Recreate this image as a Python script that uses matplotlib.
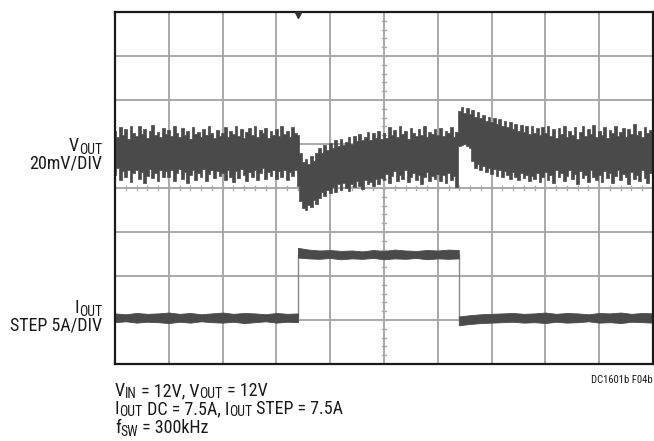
import numpy as np
import matplotlib
matplotlib.use("Agg")
import matplotlib.pyplot as plt
import matplotlib.font_manager as fm
from matplotlib.font_manager import FontProperties

# ---------------- data (in scope divisions) ----------------
n_xdiv = 10
n_ydiv = 8

# VOUT trace envelope, sampled every 0.05 div from 0 to 10
vout_x = np.round(np.arange(0, 201) * 0.05, 2)
vout_upper = [
    5.30, 5.15, 5.38, 5.20, 5.33, 5.12, 5.40, 5.25, 5.18, 5.42, 5.22, 5.35, 5.14, 5.30, 5.44, 5.20, 5.28, 5.16, 5.36, 5.22,
    5.32, 5.18, 5.40, 5.24, 5.15, 5.36, 5.20, 5.30, 5.12, 5.38, 5.22, 5.28, 5.16, 5.34, 5.20, 5.41, 5.25, 5.14, 5.32, 5.19,
    5.26, 5.38, 5.15, 5.30, 5.22, 5.40, 5.18, 5.33, 5.13, 5.28, 5.36, 5.20, 5.42, 5.16, 5.31, 5.24, 5.37, 5.14, 5.29, 5.21,
    5.35, 5.18, 5.41, 5.22, 5.30, 5.16, 5.38, 5.24, 5.20, 4.80, 4.58, 4.66, 4.55, 4.72, 4.62, 4.80, 4.92, 4.80, 4.98, 4.86,
    5.02, 4.90, 5.08, 4.95, 5.12, 4.98, 5.05, 5.15, 5.00, 5.18, 5.06, 5.22, 5.10, 5.16, 5.28, 5.08, 5.24, 5.14, 5.30, 5.12,
    5.26, 5.14, 5.38, 5.20, 5.32, 5.16, 5.42, 5.22, 5.30, 5.12, 5.36, 5.24, 5.18, 5.34, 5.20, 5.40, 5.15, 5.28, 5.22, 5.35,
    5.20, 5.36, 5.18, 5.30, 5.24, 5.38, 5.16, 5.28, 5.75, 5.84, 5.70, 5.82, 5.68, 5.78, 5.62, 5.72, 5.58, 5.66, 5.52, 5.62,
    5.50, 5.60, 5.45, 5.56, 5.42, 5.52, 5.38, 5.50, 5.35, 5.46, 5.30, 5.44, 5.28, 5.40, 5.22, 5.42, 5.26, 5.36, 5.20, 5.38,
    5.24, 5.40, 5.18, 5.33, 5.14, 5.36, 5.22, 5.42, 5.16, 5.30, 5.20, 5.38, 5.12, 5.28, 5.40, 5.18, 5.34, 5.22, 5.44, 5.16,
    5.30, 5.20, 5.38, 5.14, 5.32, 5.24, 5.40, 5.18, 5.28, 5.36, 5.16, 5.34, 5.22, 5.46, 5.20, 5.30, 5.15, 5.38, 5.24, 5.32,
    5.20,
]
vout_lower = [
    4.30, 4.45, 4.18, 4.38, 4.25, 4.42, 4.14, 4.33, 4.40, 4.20, 4.36, 4.12, 4.28, 4.44, 4.22, 4.35, 4.16, 4.40, 4.26, 4.38,
    4.24, 4.40, 4.15, 4.34, 4.44, 4.20, 4.36, 4.12, 4.30, 4.42, 4.18, 4.35, 4.26, 4.43, 4.16, 4.32, 4.40, 4.22, 4.38, 4.28,
    4.35, 4.18, 4.42, 4.26, 4.13, 4.38, 4.22, 4.44, 4.30, 4.16, 4.36, 4.24, 4.41, 4.19, 4.33, 4.45, 4.21, 4.37, 4.27, 4.40,
    4.20, 4.38, 4.25, 4.42, 4.18, 4.36, 4.27, 4.40, 4.05, 3.70, 3.55, 3.50, 3.62, 3.56, 3.72, 3.64, 3.78, 3.90, 3.82, 3.95,
    3.88, 4.02, 3.92, 4.08, 3.96, 4.12, 4.00, 3.94, 4.10, 4.02, 4.15, 4.05, 3.98, 4.18, 4.08, 4.14, 4.04, 4.20, 4.10, 4.22,
    4.18, 4.32, 4.12, 4.28, 4.38, 4.15, 4.30, 4.20, 4.40, 4.14, 4.26, 4.35, 4.18, 4.30, 4.10, 4.24, 4.36, 4.16, 4.28, 4.20,
    4.32, 4.16, 4.30, 4.12, 4.35, 4.18, 4.28, 4.02, 4.95, 4.98, 5.00, 4.96, 4.92, 4.62, 4.45, 4.55, 4.40, 4.50, 4.36, 4.46,
    4.32, 4.44, 4.28, 4.40, 4.24, 4.38, 4.30, 4.20, 4.36, 4.26, 4.18, 4.34, 4.22, 4.30, 4.15, 4.28, 4.20, 4.34, 4.14, 4.26,
    4.36, 4.18, 4.30, 4.12, 4.40, 4.24, 4.34, 4.15, 4.28, 4.42, 4.20, 4.32, 4.10, 4.38, 4.22, 4.30, 4.14, 4.40, 4.26, 4.18,
    4.30, 4.14, 4.38, 4.22, 4.34, 4.12, 4.28, 4.40, 4.18, 4.32, 4.24, 4.10, 4.36, 4.20, 4.30, 4.16, 4.40, 4.22, 4.12, 4.34,
    4.26,
]

# IOUT trace envelope, three segments (low, stepped high, low)
iout_x1 = [0.0, 0.2, 0.4, 0.6, 0.8, 1.0, 1.2, 1.4, 1.6, 1.8, 2.0, 2.2, 2.4, 2.6, 2.8, 3.0, 3.2, 3.4]
iout_u1 = [1.15, 1.13, 1.16, 1.14, 1.15, 1.17, 1.14, 1.16, 1.13, 1.15, 1.17, 1.14, 1.16, 1.15, 1.13, 1.16, 1.14, 1.15]
iout_l1 = [0.95, 0.97, 0.94, 0.96, 0.95, 0.93, 0.96, 0.94, 0.97, 0.95, 0.94, 0.96, 0.93, 0.95, 0.97, 0.94, 0.96, 0.95]

iout_x2 = [3.40, 3.60, 3.80, 4.00, 4.20, 4.40, 4.60, 4.80, 5.00, 5.20, 5.40, 5.60, 5.80, 6.00, 6.20, 6.39]
iout_u2 = [2.64, 2.60, 2.58, 2.59, 2.57, 2.58, 2.56, 2.59, 2.57, 2.60, 2.58, 2.57, 2.59, 2.58, 2.60, 2.59]
iout_l2 = [2.42, 2.40, 2.39, 2.41, 2.38, 2.40, 2.39, 2.41, 2.38, 2.40, 2.39, 2.41, 2.38, 2.40, 2.39, 2.40]

iout_x3 = [6.39, 6.60, 6.80, 7.00, 7.20, 7.40, 7.60, 7.80, 8.00, 8.20, 8.40, 8.60, 8.80, 9.00, 9.20, 9.40, 9.60, 9.80, 10.0]
iout_u3 = [1.08, 1.11, 1.13, 1.14, 1.15, 1.16, 1.14, 1.15, 1.17, 1.14, 1.16, 1.15, 1.13, 1.16, 1.15, 1.17, 1.14, 1.16, 1.15]
iout_l3 = [0.88, 0.91, 0.93, 0.94, 0.95, 0.96, 0.94, 0.95, 0.93, 0.96, 0.94, 0.95, 0.97, 0.94, 0.95, 0.93, 0.96, 0.95, 0.94]

step_x = [3.40, 6.39]
iout_low_level = 1.05
iout_high_level = 2.49
trigger_x = 3.40

# text pieces: (string, is_subscript)
label_vout = [("V", False), ("OUT", True)]
label_vscale = [("20mV/DIV", False)]
label_iout = [("I", False), ("OUT", True)]
label_iscale = [("STEP 5A/DIV", False)]
note_1 = [("V", False), ("IN", True), (" = 12V, V", False), ("OUT", True), (" = 12V", False)]
note_2 = [("I", False), ("OUT", True), (" DC = 7.5A, I", False), ("OUT", True), (" STEP = 7.5A", False)]
note_3 = [("f", False), ("SW", True), (" = 300kHz", False)]
fig_id = "DC1601b F04b"

# ---------------- font choice (prefer a narrow sans) ----------------
def _is_narrow(f):
    st = f.stretch
    if isinstance(st, str):
        if 'condensed' in st:
            return True
    else:
        try:
            if int(st) < 500:
                return True
        except Exception:
            pass
    return ('Narrow' in f.name) or ('Condensed' in f.name)

def _is_regular(f):
    w = f.weight
    if isinstance(w, str):
        w = {'normal': 400, 'regular': 400, 'book': 400, 'medium': 500}.get(w, 700)
    return f.style == 'normal' and 350 <= int(w) <= 500

pref = ['Liberation Sans Narrow', 'Arial Narrow', 'Roboto Condensed', 'Noto Sans',
        'Open Sans', 'Roboto', 'DejaVu Sans']
best = None
best_rank = 99
for f in fm.fontManager.ttflist:
    if _is_narrow(f) and _is_regular(f):
        rank = pref.index(f.name) if f.name in pref else 50
        if 'extra' in str(f.stretch) or 'ultra' in str(f.stretch):
            rank += 20
        if rank < best_rank:
            best, best_rank = f, rank
if best is not None:
    fp = FontProperties(fname=best.fname)
else:
    fp = FontProperties(family=['Liberation Sans', 'DejaVu Sans'])

W, H = 654, 441
fig = plt.figure(figsize=(W / 100, H / 100), dpi=100)
L, R, T, B = 115, 653, 12, 364
ax = fig.add_axes([L / W, 1 - B / H, (R - L) / W, (B - T) / H])
ax.set_xlim(0, n_xdiv)
ax.set_ylim(0, n_ydiv)
ax.set_xticks([])
ax.set_yticks([])
for s in ax.spines.values():
    s.set_color('#1a1a1a')
    s.set_linewidth(1.6)
    s.set_zorder(10)

grid_c = '#a9a9a9'
for i in range(1, n_xdiv):
    ax.axvline(i, color=grid_c, lw=1.4, zorder=1)
for j in range(1, n_ydiv):
    ax.axhline(j, color=grid_c, lw=1.4, zorder=1)

# minor ticks on the centre lines
cx, cy = n_xdiv / 2, n_ydiv / 2
for k in range(1, n_xdiv * 5):
    xv = k * 0.2
    ax.plot([xv, xv], [cy - 0.05, cy + 0.05], color=grid_c, lw=1.0, zorder=1)
for k in range(1, n_ydiv * 5):
    yv = k * 0.2
    ax.plot([cx - 0.045, cx + 0.045], [yv, yv], color=grid_c, lw=1.0, zorder=1)

trace_c = '#4a4a4a'
ax.fill_between(vout_x, vout_lower, vout_upper, step='mid', color=trace_c, lw=0.5,
                edgecolor=trace_c, zorder=3)

ax.vlines(step_x, iout_low_level, iout_high_level, color='#8a8a8a', lw=1.0, zorder=2)
for xs, us, ls in [(iout_x1, iout_u1, iout_l1), (iout_x2, iout_u2, iout_l2), (iout_x3, iout_u3, iout_l3)]:
    ax.fill_between(xs, ls, us, color=trace_c, lw=0.6, edgecolor=trace_c, zorder=3)

ax.plot([trigger_x], [n_ydiv - 0.06], marker='v', ms=5, color='#333333', clip_on=False, zorder=11)

# ---------------- rich text with manual subscripts ----------------
fig.canvas.draw()
renderer = fig.canvas.get_renderer()
SUB_SCALE = 0.76
SUB_DROP = 2.5  # px

def _width(s, size):
    t = fig.text(0, 0, s, fontproperties=fp, fontsize=size)
    w = t.get_window_extent(renderer).width
    t.remove()
    return w

def rich_width(pieces, size):
    return sum(_width(s, size * (SUB_SCALE if sub else 1.0)) for s, sub in pieces)

def rich(x_px, y_px, pieces, size, ha='left'):
    widths = [_width(s, size * (SUB_SCALE if sub else 1.0)) for s, sub in pieces]
    cur = x_px - sum(widths) if ha == 'right' else x_px
    for (s, sub), w in zip(pieces, widths):
        yy = y_px + (SUB_DROP if sub else 0)
        fig.text(cur / W, 1 - yy / H, s, fontproperties=fp,
                 fontsize=size * (SUB_SCALE if sub else 1.0),
                 ha='left', va='baseline', color='#1a1a1a')
        cur += w

# fit font sizes to the widths seen in the reference
base = 12.0
lab_size = min(13.0, base * 94 / rich_width(label_iscale, base))
note_size = min(13.0, base * 248 / rich_width(note_2, base))

rich(102, 151, label_vout, lab_size, ha='right')
rich(102, 169, label_vscale, lab_size, ha='right')
rich(102, 313, label_iout, lab_size, ha='right')
rich(102, 331, label_iscale, lab_size, ha='right')

rich(115, 396, note_1, note_size)
rich(115, 414, note_2, note_size)
rich(115, 433, note_3, note_size)
id_size = min(8.5, 8.0 * 62 / rich_width([(fig_id, False)], 8.0))
rich(653, 383, [(fig_id, False)], id_size, ha='right')

fig.savefig('out.png', dpi=100)
